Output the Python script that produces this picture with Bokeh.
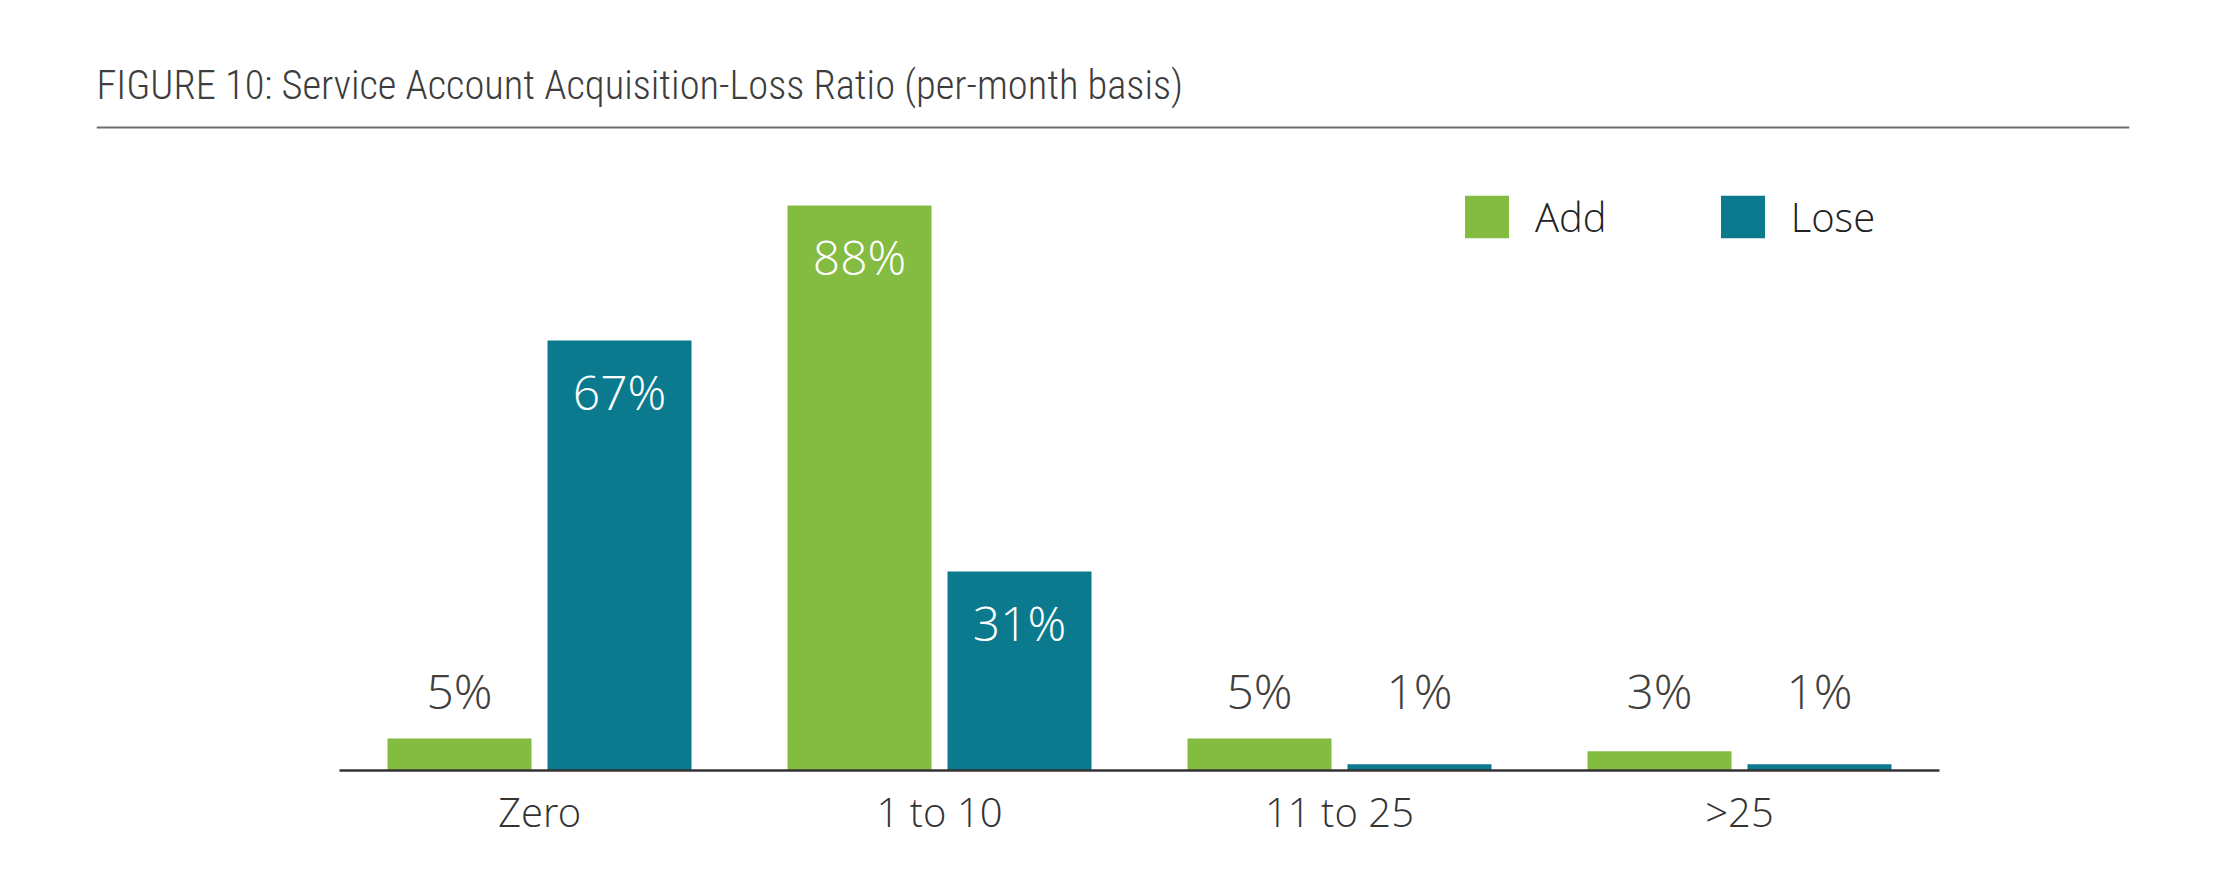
import numpy as np
from bokeh.plotting import figure
from bokeh.models import ColumnDataSource, Range1d, FixedTicker, Span, Legend, LegendItem
from bokeh.core.properties import value
from bokeh.embed import file_html
from bokeh.resources import INLINE

# ---- data ----
categories = ["Zero", "1 to 10", "11 to 25", ">25"]
series = ["Add", "Lose"]
add_values = [5, 88, 5, 3]
lose_values = [67, 31, 1, 1]
title_text = "FIGURE 10: Service Account Acquisition-Loss Ratio (per-month basis)"

GREEN = "#84BB41"
TEAL = "#0B7A8F"
DARK = "#3d3d3d"
LIGHT_FONT = "'Open Sans Light', 'Open Sans', sans-serif"
TITLE_FONT = "'Roboto Condensed Light', 'Roboto Condensed', 'Roboto Light', Roboto, sans-serif"

idx = np.arange(len(categories))
OFF = 0.2
BW = 0.36

def label_y(vals):
    return [v - 8 if v >= 10 else 12.5 for v in vals]

def label_col(vals):
    return ["white" if v >= 10 else "#404040" for v in vals]

src_add = ColumnDataSource(dict(x=idx - OFF, top=add_values,
                                ly=label_y(add_values),
                                txt=[f"{v}%" for v in add_values],
                                col=label_col(add_values)))
src_lose = ColumnDataSource(dict(x=idx + OFF, top=lose_values,
                                 ly=label_y(lose_values),
                                 txt=[f"{v}%" for v in lose_values],
                                 col=label_col(lose_values)))

p = figure(frame_width=2033, frame_height=652,
           x_range=Range1d(-1.1075, 3.975), y_range=Range1d(-0.3, 101.25),
           output_backend="svg", toolbar_location=None,
           y_axis_location=None, x_axis_location="below",
           min_border_left=96, min_border_right=91,
           min_border_top=120, min_border_bottom=90)

p.outline_line_color = None
p.xgrid.grid_line_color = None
p.ygrid.grid_line_color = None
p.background_fill_color = "white"
p.border_fill_color = "white"

# title
p.title.text = title_text
p.title.text_font = TITLE_FONT
p.title.text_font_size = "40.5px"
p.title.text_font_style = "normal"
p.title.text_color = DARK
p.title.align = "left"
p.title.standoff = 23

# rule below title
p.add_layout(Span(location=100.16, dimension="width", line_color="#6e6e6e", line_width=2))

# bars
r_add = p.vbar(x="x", top="top", bottom=0, width=BW, source=src_add,
               fill_color=GREEN, line_color=None)
r_lose = p.vbar(x="x", top="top", bottom=0, width=BW, source=src_lose,
                fill_color=TEAL, line_color=None)

# baseline
p.segment(x0=[-0.5], x1=[len(categories) - 0.5], y0=[0], y1=[0],
          line_color="#333333", line_width=2.5)

# value labels
for src in (src_add, src_lose):
    p.text(x="x", y="ly", text="txt", source=src, text_color="col",
           text_font=value(LIGHT_FONT), text_font_size="48px",
           text_align="center", text_baseline="middle")

# x axis
ax = p.xaxis[0]
ax.ticker = FixedTicker(ticks=list(idx))
ax.major_label_overrides = {int(i): c for i, c in zip(idx, categories)}
ax.axis_line_color = None
ax.major_tick_line_color = None
ax.minor_tick_line_color = None
ax.major_label_text_font = LIGHT_FONT
ax.major_label_text_font_size = "40px"
ax.major_label_text_color = "#333333"
ax.major_label_standoff = 5

# legend
legend = Legend(items=[LegendItem(label=series[0], renderers=[r_add]),
                       LegendItem(label=series[1], renderers=[r_lose])],
                orientation="horizontal", location=(1363, 528),
                glyph_width=55, glyph_height=53, label_standoff=21,
                spacing=108, padding=0, margin=0,
                border_line_color=None, background_fill_alpha=0,
                label_text_font=LIGHT_FONT, label_text_font_size="40px",
                label_text_color="#222222")
p.add_layout(legend)

open("out.html", "w").write(file_html(p, INLINE))
